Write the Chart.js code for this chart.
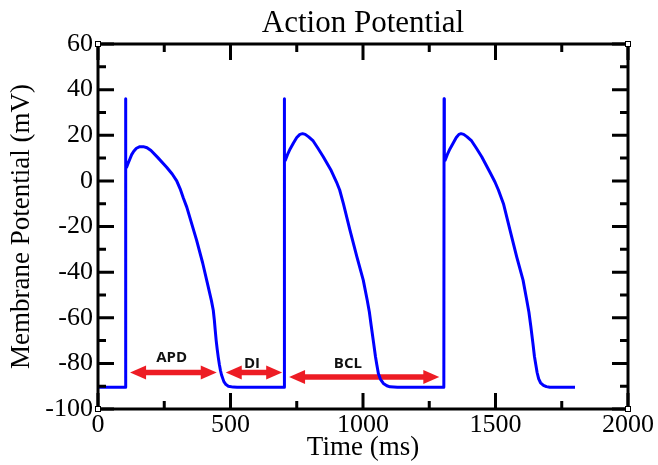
<!DOCTYPE html>
<html>
<head>
<meta charset="utf-8">
<title>Action Potential</title>
<script src="https://cdn.jsdelivr.net/npm/chart.js@4.4.0/dist/chart.umd.min.js"></script>
<style>
  html, body { margin: 0; padding: 0; background: #fff; }
</style>
</head>
<body>
<canvas id="apChart" width="658" height="465"></canvas>
<script>
// membrane potential trace (three paced beats)
const timeMs = [
  0, 103, 104, 105, 108, 113, 120, 127, 135, 145, 158, 171, 185, 200, 225, 259, 280, 297,
  310, 322, 335, 372, 395, 416, 428, 435, 439, 442, 446, 450, 454, 458, 462, 466, 475,
  483, 492, 510, 525,
  702, 703, 704, 707, 715, 725, 737, 750, 762, 772, 782, 795, 812, 830, 850, 880, 900,
  912, 926, 951, 977, 1001, 1016, 1024, 1031, 1040, 1047, 1052, 1058, 1066, 1077, 1090,
  1102, 1130,
  1305, 1306, 1307, 1310, 1318, 1328, 1340, 1352, 1362, 1370, 1380, 1393, 1410, 1428,
  1448, 1478, 1498, 1511, 1530, 1555, 1580, 1604, 1618, 1626, 1633, 1641, 1647, 1652,
  1657, 1663, 1670, 1681, 1692, 1705, 1800
];
const voltage = [
  -90.5, -90.5, 36, 9, 6, 7.5, 9.5, 11.5, 13, 14.3, 15, 15, 14.5, 13.3, 10.3, 6, 3, 0,
  -3.5, -7.5, -11.5, -26, -36, -46.5, -52.5, -56.7, -61, -65, -70, -74, -77.5, -80.5, -83, -85, -88,
  -89.3, -90, -90.4, -90.5,
  -90.5, 36, 11, 9, 11.5, 14, 16.5, 19, 20.4, 20.7, 20.4, 19.3, 17.5, 14.3, 10.6, 4.5, -0.5,
  -4, -10, -21.7, -33.3, -43.5, -52.3, -57.5, -63.5, -71, -77, -80.5, -84.4, -87, -88.8, -89.8,
  -90.3, -90.5,
  -90.5, 36, 11, 9, 11.5, 14, 16.5, 19, 20.4, 20.7, 20.4, 19.3, 17.5, 14.3,
  10.6, 4, -0.5, -4, -10, -21.7, -33.3, -43.5, -52.3, -57.5, -63.5, -71, -77, -80.5,
  -84, -86.8, -88.5, -89.6, -90.2, -90.5, -90.5
];

// annotation arrows (time span, level in mV) and their labels
const arrowNames = ["APD", "DI", "BCL"];
const arrowFrom = [121, 482, 721];
const arrowTo = [448, 695, 1288];
const arrowLevel = [-84, -84, -86];
const labelTime = [278, 581, 943];
const labelLevel = [-77.7, -80, -80];

// axis ticks
const xTickValues = [0, 500, 1000, 1500, 2000];
const yTickValues = [-100, -80, -60, -40, -20, 0, 20, 40, 60];

const serif = "'Liberation Serif', 'Times New Roman', serif";

function drawArrow(ctx, x1, x2, y) {
  const head = 16, half = 7;
  ctx.beginPath();
  ctx.moveTo(x1 + head - 2, y);
  ctx.lineTo(x2 - head + 2, y);
  ctx.lineWidth = 5.5;
  ctx.stroke();
  ctx.beginPath();
  ctx.moveTo(x1, y);
  ctx.lineTo(x1 + head, y - half);
  ctx.lineTo(x1 + head, y + half);
  ctx.closePath();
  ctx.fill();
  ctx.beginPath();
  ctx.moveTo(x2, y);
  ctx.lineTo(x2 - head, y - half);
  ctx.lineTo(x2 - head, y + half);
  ctx.closePath();
  ctx.fill();
}

const arrowPlugin = {
  id: "arrows",
  beforeDatasetsDraw(chart) {
    const { ctx, scales: { x, y } } = chart;
    ctx.save();
    ctx.strokeStyle = "#ed1c24";
    ctx.fillStyle = "#ed1c24";
    arrowNames.forEach((name, i) => {
      drawArrow(ctx, x.getPixelForValue(arrowFrom[i]), x.getPixelForValue(arrowTo[i]),
        y.getPixelForValue(arrowLevel[i]));
    });
    ctx.fillStyle = "#111";
    ctx.font = "bold 15px 'Open Sans', 'Liberation Sans', sans-serif";
    ctx.textAlign = "center";
    ctx.textBaseline = "middle";
    arrowNames.forEach((name, i) => {
      ctx.fillText(name, x.getPixelForValue(labelTime[i]), y.getPixelForValue(labelLevel[i]));
    });
    ctx.restore();
  }
};

// frame with inward major/minor ticks on all four sides, plus titles
const framePlugin = {
  id: "frame",
  afterDraw(chart) {
    const { ctx, chartArea: a, scales: { x, y } } = chart;
    ctx.save();
    ctx.strokeStyle = "#000";
    ctx.lineWidth = 3;
    ctx.lineCap = "butt";

    const xs = x.ticks.map(t => t.value);
    const ys = y.ticks.map(t => t.value);
    const major = 16, minor = 8;

    ctx.beginPath();
    xs.forEach((v, i) => {
      const px = x.getPixelForValue(v);
      ctx.moveTo(px, a.bottom); ctx.lineTo(px, a.bottom - major);
      ctx.moveTo(px, a.top); ctx.lineTo(px, a.top + major);
      if (i < xs.length - 1) {
        const mx = x.getPixelForValue((v + xs[i + 1]) / 2);
        ctx.moveTo(mx, a.bottom); ctx.lineTo(mx, a.bottom - minor);
        ctx.moveTo(mx, a.top); ctx.lineTo(mx, a.top + minor);
      }
    });
    ys.forEach((v, i) => {
      const py = y.getPixelForValue(v);
      ctx.moveTo(a.left, py); ctx.lineTo(a.left + major, py);
      ctx.moveTo(a.right, py); ctx.lineTo(a.right - major, py);
      if (i < ys.length - 1) {
        const my = y.getPixelForValue((v + ys[i + 1]) / 2);
        ctx.moveTo(a.left, my); ctx.lineTo(a.left + minor, my);
        ctx.moveTo(a.right, my); ctx.lineTo(a.right - minor, my);
      }
    });
    ctx.stroke();

    ctx.strokeRect(a.left, a.top, a.right - a.left, a.bottom - a.top);

    // little corner squares
    ctx.lineWidth = 1;
    ctx.fillStyle = "#fff";
    [[a.left, a.top], [a.right, a.top], [a.left, a.bottom], [a.right, a.bottom]].forEach(([cx, cy]) => {
      ctx.fillRect(cx - 2.5, cy - 2.5, 5, 5);
      ctx.strokeRect(cx - 2.5, cy - 2.5, 5, 5);
    });

    // titles
    const midX = (a.left + a.right) / 2;
    const midY = (a.top + a.bottom) / 2;
    ctx.fillStyle = "#000";
    ctx.textAlign = "center";
    ctx.textBaseline = "alphabetic";
    ctx.font = "31px " + serif;
    ctx.fillText("Action Potential", midX, 32);
    ctx.font = "27px " + serif;
    ctx.fillText("Time (ms)", midX, 455);
    ctx.translate(29, midY);
    ctx.rotate(-Math.PI / 2);
    ctx.fillText("Membrane Potential (mV)", 0, 0);
    ctx.restore();
  }
};

new Chart(document.getElementById("apChart"), {
  type: "line",
  data: {
    datasets: [{
      label: "Membrane potential",
      data: timeMs.map((t, i) => ({ x: t, y: voltage[i] })),
      borderColor: "#0000ff",
      borderWidth: 3,
      borderJoinStyle: "round",
      pointRadius: 0,
      fill: false,
      tension: 0
    }]
  },
  options: {
    responsive: false,
    animation: false,
    devicePixelRatio: 1,
    layout: { padding: { top: 44, right: 30, left: 0, bottom: 0 } },
    plugins: {
      legend: { display: false },
      tooltip: { enabled: false },
      title: { display: false }
    },
    scales: {
      x: {
        type: "linear",
        min: 0,
        max: 2000,
        afterBuildTicks: (s) => { s.ticks = xTickValues.map(v => ({ value: v })); },
        afterFit: (s) => { s.height = 56; },
        grid: { display: false, drawTicks: false },
        border: { display: false },
        ticks: {
          color: "#000",
          padding: 1,
          maxRotation: 0,
          autoSkip: false,
          callback: (v) => String(v),
          font: { family: serif, size: 26 }
        }
      },
      y: {
        min: -100,
        max: 60,
        afterBuildTicks: (s) => { s.ticks = yTickValues.map(v => ({ value: v })); },
        afterFit: (s) => { s.width = 98; },
        grid: { display: false, drawTicks: false },
        border: { display: false },
        ticks: {
          color: "#000",
          padding: 5,
          autoSkip: false,
          callback: (v) => String(v),
          font: { family: serif, size: 26 }
        }
      }
    }
  },
  plugins: [arrowPlugin, framePlugin]
});
</script>
</body>
</html>
